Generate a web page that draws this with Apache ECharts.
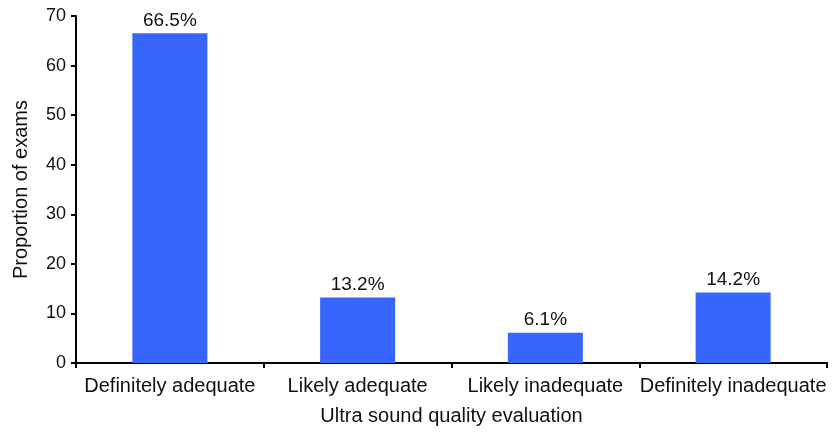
<!DOCTYPE html>
<html><head><meta charset="utf-8">
<script src="https://cdn.jsdelivr.net/npm/echarts@6/dist/echarts.min.js"></script>
<style>html,body{margin:0;padding:0;background:#fff}#c{width:835px;height:433px}</style>
</head><body><div id="c"></div>
<script>
const categories = ["Definitely adequate", "Likely adequate", "Likely inadequate", "Definitely inadequate"];
const values = [66.5, 13.2, 6.1, 14.2];
const yTicks = [0, 10, 20, 30, 40, 50, 60, 70];
const xTitle = "Ultra sound quality evaluation";
const yTitle = "Proportion of exams";

const font = "Liberation Sans, Arial, sans-serif";
const chart = echarts.init(document.getElementById('c'), null, {renderer: 'canvas'});
chart.setOption({
  animation: false,
  grid: {left: 76, right: 8, top: 16, bottom: 70, containLabel: false},
  xAxis: {
    type: 'category', data: categories,
    name: xTitle, nameLocation: 'middle', nameGap: 43,
    nameTextStyle: {fontFamily: font, fontSize: 20, color: '#111'},
    axisLine: {lineStyle: {color: '#000', width: 2}},
    axisTick: {show: true, alignWithLabel: false, length: 5, lineStyle: {color: '#000', width: 2}},
    axisLabel: {fontFamily: font, fontSize: 20, color: '#111', margin: 13, interval: 0}
  },
  yAxis: {
    type: 'value', min: yTicks[0], max: yTicks[yTicks.length - 1], interval: 10,
    name: yTitle, nameLocation: 'middle', nameGap: 45, nameRotate: 90,
    nameTextStyle: {fontFamily: font, fontSize: 20, color: '#111'},
    axisLine: {show: true, lineStyle: {color: '#000', width: 2}},
    axisTick: {show: true, length: 5, lineStyle: {color: '#000', width: 2}},
    axisLabel: {fontFamily: font, fontSize: 18, color: '#111', margin: 10},
    splitLine: {show: false}
  },
  series: [{
    type: 'bar', data: values, barWidth: 75,
    itemStyle: {color: '#3866FD'},
    label: {show: true, position: 'top', distance: 3, formatter: p => p.value.toFixed(1) + '%',
            fontFamily: font, fontSize: 19, color: '#111'}
  }]
});
</script></body></html>
